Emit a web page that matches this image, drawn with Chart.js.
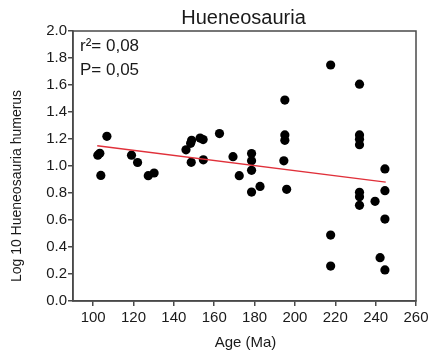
<!DOCTYPE html>
<html>
<head>
<meta charset="utf-8">
<script src="https://cdn.jsdelivr.net/npm/chart.js@4/dist/chart.umd.min.js"></script>
<style>
  html, body { margin: 0; padding: 0; background: #fff; }
  #wrap { width: 433px; height: 358px; }
</style>
</head>
<body>
<div id="wrap"><canvas id="c" width="433" height="358"></canvas></div>
<script>
// Humerus size (log10) against geological age
const ageMa = [
  102.3, 103.3, 103.8, 106.8, 119.0, 122.0, 127.3, 130.2,
  146.0, 148.3, 148.8, 148.6, 153.0, 154.5, 154.6, 162.6,
  169.3, 172.4, 178.5, 178.5, 178.5, 178.5, 182.7,
  194.5, 195.9, 195.0, 195.0, 195.0,
  217.7, 217.7, 217.7,
  232.0, 232.0, 232.0, 232.0, 232.0, 232.0, 232.0,
  239.7, 244.6, 244.6, 244.6, 242.2, 244.6
];
const logHumerus = [
  1.08, 1.094, 0.93, 1.22, 1.08, 1.026, 0.928, 0.948,
  1.12, 1.168, 1.19, 1.027, 1.207, 1.196, 1.046, 1.24,
  1.069, 0.928, 1.092, 1.038, 0.968, 0.807, 0.849,
  1.038, 0.827, 1.488, 1.23, 1.19,
  1.748, 0.488, 0.259,
  1.606, 1.23, 1.198, 1.158, 0.805, 0.773, 0.709,
  0.738, 0.978, 0.817, 0.607, 0.321, 0.23
];
// Least-squares fit line, end points
const fitX = [102, 245];
const fitY = [1.15, 0.88];

const xTicks = [100, 120, 140, 160, 180, 200, 220, 240, 260];
const yTicks = [0.0, 0.2, 0.4, 0.6, 0.8, 1.0, 1.2, 1.4, 1.6, 1.8, 2.0];

const chartTitle = 'Hueneosauria';
const xTitle = 'Age (Ma)';
const yTitle = 'Log 10 Hueneosauria humerus';
const statLines = ['r\u00B2= 0,08', 'P= 0,05'];

const FONT = "'Liberation Sans', Arial, sans-serif";
const AXIS = '#4a4a4a';

const textPlugin = {
  id: 'texts',
  afterDraw(chart) {
    const { ctx, chartArea: a } = chart;
    ctx.save();
    // frame around the plotting area
    ctx.strokeStyle = AXIS;
    ctx.lineWidth = 1.5;
    ctx.strokeRect(a.left, a.top, a.right - a.left, a.bottom - a.top);

    ctx.fillStyle = '#1a1a1a';
    ctx.font = '20px ' + FONT;
    ctx.textAlign = 'center';
    ctx.textBaseline = 'alphabetic';
    ctx.fillText(chartTitle, (a.left + a.right) / 2 - 1, 24);

    ctx.font = '15px ' + FONT;
    ctx.fillText(xTitle, (a.left + a.right) / 2 + 1, 347);

    ctx.save();
    ctx.translate(21, (a.top + a.bottom) / 2 + 20);
    ctx.rotate(-Math.PI / 2);
    ctx.font = '14px ' + FONT;
    ctx.fillText(yTitle, 0, 0);
    ctx.restore();

    ctx.font = '17px ' + FONT;
    ctx.textAlign = 'left';
    ctx.fillText(statLines[0], a.left + 7, 51);
    ctx.fillText(statLines[1], a.left + 7, 75);
    ctx.restore();
  }
};

const points = ageMa.map((x, i) => ({ x, y: logHumerus[i] }));
const fitLine = fitX.map((x, i) => ({ x, y: fitY[i] }));

new Chart(document.getElementById('c'), {
  type: 'scatter',
  data: {
    datasets: [
      {
        type: 'line',
        data: fitLine,
        borderColor: '#e0303a',
        borderWidth: 1.3,
        pointRadius: 0,
        fill: false
      },
      {
        data: points,
        backgroundColor: '#000',
        borderColor: '#000',
        borderWidth: 0,
        pointRadius: 4.6
      }
    ]
  },
  options: {
    responsive: false,
    animation: false,
    devicePixelRatio: 1,
    layout: { padding: { left: 0, right: 17, top: 31, bottom: 0 } },
    plugins: {
      legend: { display: false },
      tooltip: { enabled: false },
      title: { display: false }
    },
    scales: {
      x: {
        type: 'linear',
        min: 90,
        max: 260,
        afterBuildTicks: s => { s.ticks = xTicks.map(v => ({ value: v })); },
        afterFit: s => { s.height = 57; },
        grid: { drawOnChartArea: false, drawTicks: true, tickLength: 5, color: AXIS, lineWidth: 1.5 },
        border: { display: true, color: AXIS, width: 1.5 },
        ticks: { color: '#1a1a1a', font: { family: FONT, size: 15 }, padding: 3, maxRotation: 0 }
      },
      y: {
        type: 'linear',
        min: 0,
        max: 2,
        afterBuildTicks: s => { s.ticks = yTicks.map(v => ({ value: v })); },
        afterFit: s => { s.width = 73; },
        grid: { drawOnChartArea: false, drawTicks: true, tickLength: 5, color: AXIS, lineWidth: 1.5 },
        border: { display: true, color: AXIS, width: 1.5 },
        ticks: {
          color: '#1a1a1a',
          font: { family: FONT, size: 15 },
          padding: 1,
          callback: v => Number(v).toFixed(1)
        }
      }
    }
  },
  plugins: [textPlugin]
});
</script>
</body>
</html>
